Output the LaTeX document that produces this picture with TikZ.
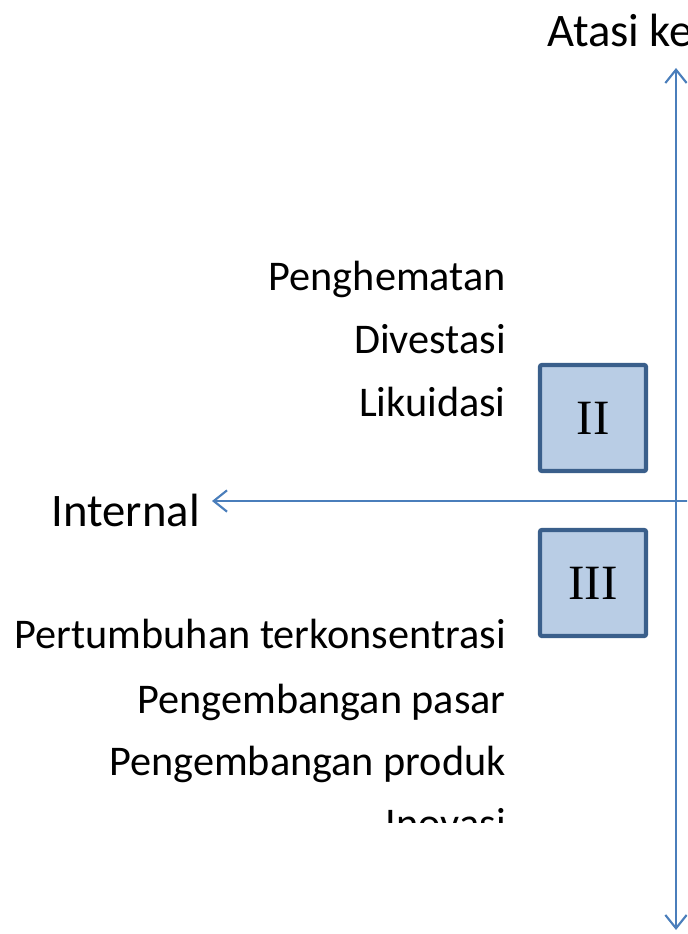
\documentclass[tikz,border=0pt]{standalone}
\usepackage{fontspec}
\setmainfont{Carlito}
\newfontfamily\romfont{Liberation Serif}
\usetikzlibrary{arrows.meta}

\definecolor{axisblue}{HTML}{4A7EBB}
\definecolor{boxedge}{HTML}{3A5F8B}
\definecolor{boxfill}{HTML}{B9CDE5}

\begin{document}
\begin{tikzpicture}[x=0.75pt,y=-0.75pt,>={Straight Barb[length=10pt,width=16pt]},
  axis/.style={draw=axisblue,line width=1.6pt},
  quad/.style={draw=boxedge,fill=boxfill,line width=3.2pt,rounded corners=1.5pt,
    minimum width=79.5pt,minimum height=79.5pt,inner sep=0pt,
    font=\romfont\fontsize{37}{40}\selectfont},
  strat/.style={anchor=base east,inner sep=0pt,font=\fontsize{31.7}{36}\selectfont},
  axlabel/.style={inner sep=0pt,font=\fontsize{35}{42}\selectfont}]
  \clip (0,0) rectangle (687,934);

  % axes
  \coordinate (top) at (676,68);
  \coordinate (bottom) at (676,930);
  \coordinate (rgt) at (695,501);
  \coordinate (lft) at (212,501);
  \draw[axis,<->] (bottom) -- (top);
  \draw[axis,->] (rgt) -- (lft);

  % axis labels
  \node[axlabel,anchor=base west] (atasi) at (547,47) {Atasi ke};
  \node[axlabel,anchor=base east] (internal) at (200,526) {Internal};

  % quadrant boxes
  \node[quad] (q2) at (593,418) {II};
  \node[quad] (q3) at (593,583) {III};

  % upper strategies
  \node[strat] (hemat) at (506,290) {Penghematan};
  \node[strat] (divest) at (506,353) {Divestasi};
  \node[strat] (likuid) at (506,416) {Likuidasi};

  % lower strategies
  \node[strat] (tumbuh) at (506,648) {Pertumbuhan terkonsentrasi};
  \node[strat] (pasar) at (506,713) {Pengembangan pasar};
  \node[strat] (produk) at (506,775) {Pengembangan produk};
  \begin{scope}
    \clip (0,0) rectangle (687,822);
    \node[strat] (inovasi) at (506,837) {Inovasi};
  \end{scope}
\end{tikzpicture}
\end{document}
